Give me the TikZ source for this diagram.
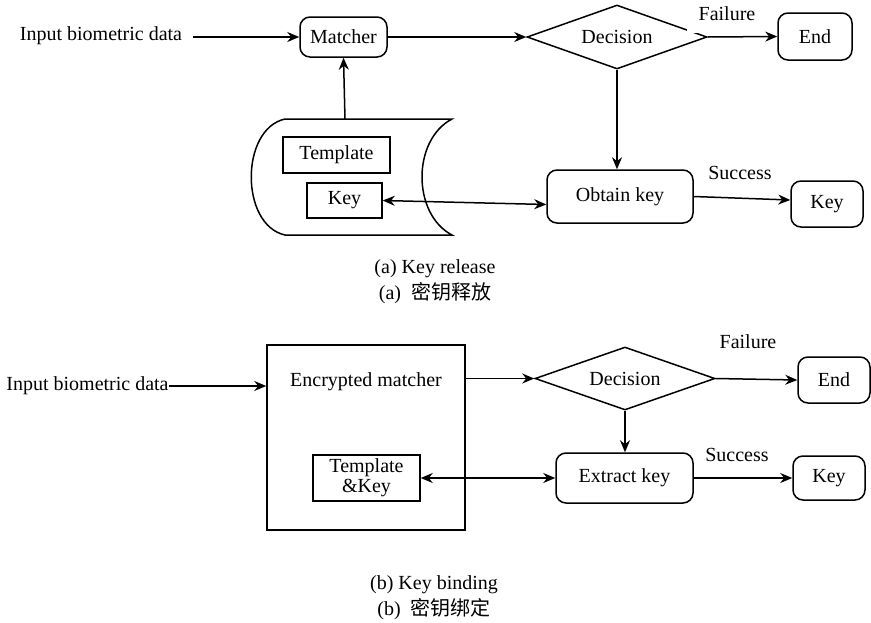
\documentclass[tikz,border=0pt]{standalone}
\usepackage{fontspec}
\setmainfont{Liberation Serif}
\newfontfamily\cjk{Noto Sans CJK SC}
\usetikzlibrary{shapes.geometric,arrows.meta,calc}
\begin{document}
\begin{tikzpicture}[x=1pt,y=-1pt,
  every node/.style={font=\fontsize{20}{23}\selectfont},
  line width=1.5pt,
  arr/.style={-{Stealth[length=12pt,width=10pt]}},
  darr/.style={{Stealth[length=12pt,width=10pt]}-{Stealth[length=12pt,width=10pt]}},
  rbox/.style={draw,rounded corners=10pt,inner sep=0pt},
  sbox/.style={draw,inner sep=0pt},
  dia/.style={draw,diamond,aspect=2.8,inner sep=0pt},
  lab/.style={fill=white,inner sep=0pt,minimum width=80pt,minimum height=38pt},
  plain/.style={inner sep=0pt}
]
\useasboundingbox (0,0) rectangle (871,622);
% ---------- (a) ----------
\node[plain] (in1) at (101,36) {Input biometric data};
\node[rbox,minimum width=87pt,minimum height=40pt] (matcher) at (343.5,37) {Matcher};
\node[dia,minimum width=180pt,minimum height=64pt] (dec1) at (617,37) {Decision};
\node[rbox,minimum width=74pt,minimum height=47pt] (end1) at (815,36.5) {End};
\node[rbox,minimum width=146pt,minimum height=53pt] (obtain) at (620,196.5) {Obtain key};
\node[rbox,minimum width=72pt,minimum height=46pt] (key1) at (827,204) {Key};
\draw (285,119) -- (452,119)
      .. controls (412,140) and (412,214) .. (452,235)
      -- (285,235)
      .. controls (240,225) and (240,129) .. (285,119);
\coordinate (dbtop) at (345,119);
\node[sbox,minimum width=107pt,minimum height=36pt] (tmpl) at (336.5,155) {Template};
\node[sbox,minimum width=75pt,minimum height=35pt] (keyA) at (344.5,200.5) {Key};
\node[lab] (fail1) at (727,14) {Failure};
\node[plain] (succ1) at (740,173) {Success};

\draw[arr] ([xshift=10pt,yshift=-1pt]in1.east) -- (matcher.west);
\draw[arr] (matcher.east) -- (dec1.west);
\draw[arr] (dec1.east) -- (end1.west);
\draw[arr] (dec1.south) -- (dec1.south |- obtain.north);
\draw[arr] (obtain.east) -- ([yshift=4pt]key1.west);
\draw[arr] (dbtop) -- (matcher.south);
\draw[darr] (keyA.east) -- ([yshift=-8pt]obtain.west);

\node[plain] (capa1) at (435,269) {(a) Key release};
\node[plain] (capa2) at (435,293) {(a)\hspace{10pt}{\cjk 密钥释放}};

% ---------- (b) ----------
\node[plain] (in2) at (87.5,386) {Input biometric data};
\node[sbox,minimum width=198pt,minimum height=185pt] (enc) at (366,437.5) {};
\node[plain] (enclab) at (366,382) {Encrypted matcher};
\node[sbox,minimum width=107pt,minimum height=46pt,align=center] (tk) at (366.5,478) {Template\\[-3pt]\&Key};
\node[dia,minimum width=180pt,minimum height=63pt] (dec2) at (625,378.5) {Decision};
\node[rbox,minimum width=72pt,minimum height=46pt] (end2) at (834,380) {End};
\node[rbox,minimum width=137pt,minimum height=50pt] (extract) at (624.5,478) {Extract key};
\node[rbox,minimum width=72pt,minimum height=44pt] (key2) at (829,478) {Key};
\node[lab] (fail2) at (748,342) {Failure};
\node[plain] (succ2) at (737,455) {Success};

\draw[arr] (in2.east) -- (in2.east -| enc.west);
\draw[arr] (dec2.west -| enc.east) -- (dec2.west);
\draw[arr] (dec2.east) -- (end2.west);
\draw[arr] (dec2.south) -- (dec2.south |- extract.north);
\draw[arr] (extract.east) -- (key2.west);
\draw[darr] (tk.east) -- (extract.west);

\node[plain] (capb1) at (434,585) {(b) Key binding};
\node[plain] (capb2) at (434,609) {(b)\hspace{10pt}{\cjk 密钥绑定}};
\end{tikzpicture}
\end{document}
